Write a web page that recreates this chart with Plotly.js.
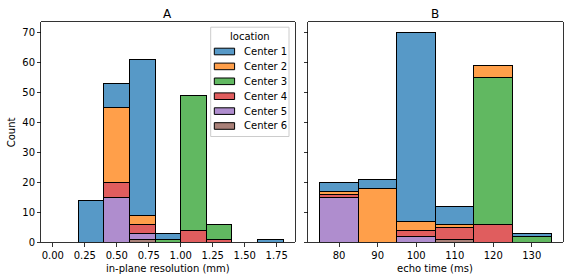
<!DOCTYPE html>
<html><head><meta charset="utf-8">
<script src="https://cdn.plot.ly/plotly-3.0.1.min.js"></script>
<style>html,body{margin:0;padding:0;background:#fff}#chart{width:568px;height:280px}</style>
</head><body><div id="chart"></div>
<script>
// ---- data ----
const centers = ["Center 1", "Center 2", "Center 3", "Center 4", "Center 5", "Center 6"];
const colors = ["#1f77b4", "#ff7f0e", "#2ca02c", "#d62728", "#9467bd", "#8c564b"];

// Panel A: in-plane resolution (mm), bin centres (bin width 0.2)
const resBins = [0.3, 0.5, 0.7, 0.9, 1.1, 1.3, 1.5, 1.7];
const resC1 = [14, 8, 52, 2, 0, 0, 0, 1];
const resC2 = [0, 25, 3, 0, 0, 0, 0, 0];
const resC3 = [0, 0, 0, 1, 45, 5, 0, 0];
const resC4 = [0, 5, 3, 0, 4, 1, 0, 0];
const resC5 = [0, 15, 2, 0, 0, 0, 0, 0];
const resC6 = [0, 0, 1, 0, 0, 0, 0, 0];

// Panel B: echo time (ms), bin centres (bin width 10)
const echoBins = [80, 90, 100, 110, 120, 130];
const echoC1 = [3, 3, 63, 6, 0, 1];
const echoC2 = [1, 18, 3, 1, 4, 0];
const echoC3 = [0, 0, 0, 0, 49, 2];
const echoC4 = [1, 0, 2, 4, 6, 0];
const echoC5 = [15, 0, 2, 0, 0, 0];
const echoC6 = [0, 0, 0, 1, 0, 0];

const resTicks = [0, 0.25, 0.5, 0.75, 1.0, 1.25, 1.5, 1.75];
const resTickText = ["0.00", "0.25", "0.50", "0.75", "1.00", "1.25", "1.50", "1.75"];
const echoTicks = [80, 90, 100, 110, 120, 130];
const countTicks = [0, 10, 20, 30, 40, 50, 60, 70];

// ---- layout helpers ----
const W = 568, H = 280;
const px = v => v / W;
const py = v => 1 - v / H;
const ALPHA = 0.75;
function rgba(hex, a) {
  const r = parseInt(hex.slice(1, 3), 16), g = parseInt(hex.slice(3, 5), 16), b = parseInt(hex.slice(5, 7), 16);
  return `rgba(${r},${g},${b},${a})`;
}
const resSeries = [resC1, resC2, resC3, resC4, resC5, resC6];
const echoSeries = [echoC1, echoC2, echoC3, echoC4, echoC5, echoC6];
const nz = arr => arr.map(v => (v === 0 ? null : v));

const traces = [];
for (let i = centers.length - 1; i >= 0; i--) {
  const common = {
    type: "bar",
    name: centers[i],
    marker: { color: rgba(colors[i], ALPHA), line: { color: "#000", width: 1 } },
    showlegend: false,
    hoverinfo: "x+y+name"
  };
  traces.push(Object.assign({}, common, { x: resBins, y: nz(resSeries[i]), width: 0.2, xaxis: "x", yaxis: "y" }));
  traces.push(Object.assign({}, common, { x: echoBins, y: nz(echoSeries[i]), width: 10, xaxis: "x2", yaxis: "y2" }));
}

const FONT = "DejaVu Sans, Liberation Sans, sans-serif";
const axL = [41.3, 294.6], axR = [308.3, 562.6], axTop = 22.3, axBot = 242.3;

const baseX = {
  showgrid: false, zeroline: false, showline: true, mirror: true,
  linecolor: "#000", linewidth: 0.8, ticks: "outside", ticklen: 3.5, tickwidth: 0.8,
  tickcolor: "#000", tickfont: { family: FONT, size: 10, color: "#000" }, automargin: false
};

const layout = {
  width: W, height: H,
  margin: { l: 0, r: 0, t: 0, b: 0 },
  paper_bgcolor: "#fff", plot_bgcolor: "#fff",
  barmode: "stack", showlegend: false,
  font: { family: FONT, size: 10, color: "#000" },
  xaxis: Object.assign({}, baseX, {
    domain: [px(axL[0]), px(axL[1])], range: [-0.09, 1.89],
    tickvals: resTicks, ticktext: resTickText, anchor: "y"
  }),
  yaxis: Object.assign({}, baseX, {
    domain: [py(axBot), py(axTop)], range: [0, 73.5], tickvals: countTicks, anchor: "x"
  }),
  xaxis2: Object.assign({}, baseX, {
    domain: [px(axR[0]), px(axR[1])], range: [72, 138], tickvals: echoTicks, anchor: "y2"
  }),
  yaxis2: Object.assign({}, baseX, {
    domain: [py(axBot), py(axTop)], range: [0, 73.5], tickvals: countTicks,
    showticklabels: false, anchor: "x2", matches: "y"
  }),
  shapes: [],
  annotations: []
};

const ann = layout.annotations;
// panel titles
ann.push({ text: "A", xref: "paper", yref: "paper", x: px((axL[0] + axL[1]) / 2), y: py(13.5),
  xanchor: "center", yanchor: "middle", showarrow: false, font: { family: FONT, size: 12, color: "#000" } });
ann.push({ text: "B", xref: "paper", yref: "paper", x: px((axR[0] + axR[1]) / 2), y: py(13.5),
  xanchor: "center", yanchor: "middle", showarrow: false, font: { family: FONT, size: 12, color: "#000" } });
// axis titles
ann.push({ text: "in-plane resolution (mm)", xref: "paper", yref: "paper", x: px((axL[0] + axL[1]) / 2), y: py(268),
  xanchor: "center", yanchor: "middle", showarrow: false, font: { family: FONT, size: 10, color: "#000" } });
ann.push({ text: "echo time (ms)", xref: "paper", yref: "paper", x: px((axR[0] + axR[1]) / 2), y: py(268),
  xanchor: "center", yanchor: "middle", showarrow: false, font: { family: FONT, size: 10, color: "#000" } });
ann.push({ text: "Count", xref: "paper", yref: "paper", x: px(11), y: py((axTop + axBot) / 2), textangle: -90,
  xanchor: "center", yanchor: "middle", showarrow: false, font: { family: FONT, size: 10, color: "#000" } });

// legend (drawn in panel A, upper right)
const lg = { x0: 210.7, x1: 289, y0: 27.2, y1: 136.5, titleY: 36.3, row0: 51.5, rowStep: 14.9, patchX0: 214.3, patchX1: 234.6, patchH: 6.6, textX: 241.7 };
layout.shapes.push({ type: "rect", xref: "paper", yref: "paper", x0: px(lg.x0), x1: px(lg.x1), y0: py(lg.y1), y1: py(lg.y0),
  line: { color: "#cccccc", width: 1 }, fillcolor: "rgba(255,255,255,0.8)", layer: "above" });
ann.push({ text: "location", xref: "paper", yref: "paper", x: px((lg.x0 + lg.x1) / 2), y: py(lg.titleY),
  xanchor: "center", yanchor: "middle", showarrow: false, font: { family: FONT, size: 10, color: "#000" } });
centers.forEach((c, i) => {
  const cy = lg.row0 + i * lg.rowStep;
  layout.shapes.push({ type: "rect", xref: "paper", yref: "paper", x0: px(lg.patchX0), x1: px(lg.patchX1),
    y0: py(cy + lg.patchH / 2), y1: py(cy - lg.patchH / 2),
    line: { color: "#000", width: 1 }, fillcolor: rgba(colors[i], ALPHA), layer: "above" });
  ann.push({ text: c, xref: "paper", yref: "paper", x: px(lg.textX), y: py(cy),
    xanchor: "left", yanchor: "middle", showarrow: false, font: { family: FONT, size: 10, color: "#000" } });
});

Plotly.newPlot("chart", traces, layout, { staticPlot: true, displayModeBar: false });
</script>
</body></html>
